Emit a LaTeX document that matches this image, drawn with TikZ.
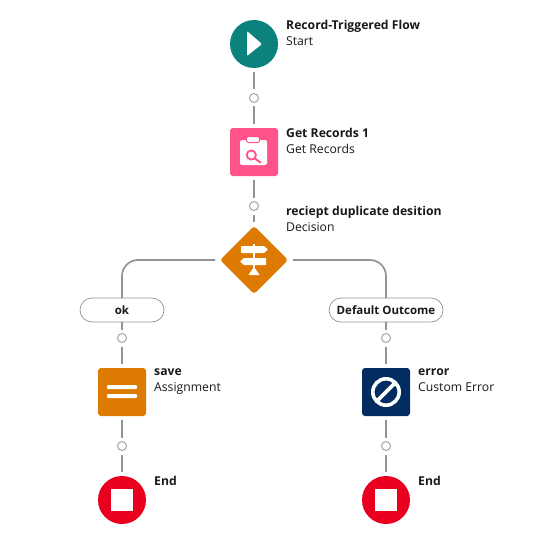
\documentclass[tikz,border=0pt]{standalone}
\usepackage{fontspec}
\setmainfont{Open Sans}
\usepackage{xcolor}
\usetikzlibrary{shapes.geometric}
\definecolor{startteal}{HTML}{0B827C}
\definecolor{recordpink}{HTML}{FF538A}
\definecolor{logicorange}{HTML}{DD7A01}
\definecolor{errornavy}{HTML}{032D60}
\definecolor{endred}{HTML}{EA001E}
\definecolor{flowgray}{HTML}{939393}
\definecolor{flowtext}{HTML}{181818}
\tikzset{
    round-icon/.style = {circle, minimum size=48pt, inner sep=0pt, outer sep=0pt},
    box-icon/.style = {rectangle, rounded corners=3pt, minimum size=48pt, inner sep=0pt, outer sep=0pt},
    decision-icon/.style = {diamond, aspect=1, rounded corners=3pt, minimum size=68pt, inner sep=0pt, outer sep=0pt, fill=logicorange},
    flow-dot/.style = {circle, draw=flowgray, fill=white, line width=0.8pt, minimum size=9pt, inner sep=0pt, outer sep=0pt},
    flow-line/.style = {draw=flowgray, line width=1.7pt, shorten <=4pt, shorten >=4pt},
    branch-line/.style = {draw=flowgray, line width=1.7pt, rounded corners=16pt, shorten <=5pt},
    outcome-pill/.style = {rectangle, rounded corners=12pt, draw=flowgray, fill=white, line width=0.7pt, minimum height=24pt, inner sep=0pt, outer sep=0pt, text=flowtext, font=\fontsize{11.5}{14}\selectfont\bfseries},
    flow-label/.style = {anchor=north west, align=left, inner sep=0pt, text=flowtext, font=\fontsize{12.2}{16}\selectfont},
    icon-mark/.style = {fill=white, draw=none},
}
\begin{document}
\begin{tikzpicture}[x=1pt, y=-1pt]
\useasboundingbox (0,0) rectangle (551,559);
% icons
\node [round-icon, fill=startteal] (start) at (254,44) {};
\node [box-icon, fill=recordpink] (records) at (254,152) {};
\node [decision-icon] (decision) at (254,260) {};
\node [box-icon, fill=logicorange] (save) at (122,392) {};
\node [box-icon, fill=errornavy] (error) at (386,392) {};
\node [round-icon, fill=endred] (end-ok) at (122,500) {};
\node [round-icon, fill=endred] (end-error) at (386,500) {};
% dots and outcomes
\node [flow-dot] (dot-start) at (254,98) {};
\node [flow-dot] (dot-records) at (254,206) {};
\node [outcome-pill, minimum width=84pt, text depth=0pt] (ok) at (122,310) {\raisebox{-1pt}{ok}};
\node [outcome-pill, minimum width=114pt] (default) at (386,310) {\raisebox{-1pt}{Default Outcome}};
\node [flow-dot] (dot-ok) at (122,338) {};
\node [flow-dot] (dot-default) at (386,338) {};
\node [flow-dot] (dot-save) at (122,446) {};
\node [flow-dot] (dot-error) at (386,446) {};
% connectors
\draw [flow-line] (start) -- (dot-start);
\draw [flow-line] (dot-start) -- (records);
\draw [flow-line] (records) -- (dot-records);
\draw [flow-line] (dot-records) -- (decision);
\draw [branch-line] (decision) -| (ok);
\draw [branch-line] (decision) -| (default);
\draw [flow-line, shorten <=0pt] (ok) -- (dot-ok);
\draw [flow-line, shorten <=0pt] (default) -- (dot-default);
\draw [flow-line] (dot-ok) -- (save);
\draw [flow-line] (dot-default) -- (error);
\draw [flow-line] (save) -- (dot-save);
\draw [flow-line] (error) -- (dot-error);
\draw [flow-line] (dot-save) -- (end-ok);
\draw [flow-line] (dot-error) -- (end-error);
% play mark
\begin{scope}[shift={(start.center)}]
\fill [icon-mark, rounded corners=1pt] (-7,-13) -- (8,0) -- (-7,12) -- cycle;
\end{scope}
% clipboard mark
\begin{scope}[shift={(records.center)}]
\fill [icon-mark, rounded corners=2pt] (-14,-12) rectangle (13,13);
\filldraw [draw=recordpink, fill=white, line width=1pt, rounded corners=1.5pt] (-7.5,-15.5) rectangle (5.5,-9.5);
\draw [draw=recordpink, line width=1.8pt] (-2.7,3) circle (4.6pt);
\draw [draw=recordpink, line width=2pt, line cap=round] (0.8,6.5) -- (6.5,10.5);
\end{scope}
% signpost mark
\begin{scope}[shift={(decision.center)}]
\fill [icon-mark] (-1,-16) rectangle (1,10);
\fill [icon-mark, rounded corners=0.5pt] (-13,-14) -- (10,-14) -- (14,-10.5) -- (10,-7) -- (-13,-7) -- cycle;
\fill [icon-mark, rounded corners=0.5pt] (-14,1.5) -- (-10,-2) -- (12,-2) -- (12,5) -- (-10,5) -- cycle;
\fill [icon-mark] (-5.5,15) -- (5.5,15) -- (1.5,9) -- (-1.5,9) -- cycle;
\end{scope}
% equals mark
\begin{scope}[shift={(save.center)}]
\fill [icon-mark, rounded corners=1pt] (-15,-7) rectangle (15,-3);
\fill [icon-mark, rounded corners=1pt] (-15,2) rectangle (15,6);
\end{scope}
% no-entry mark
\begin{scope}[shift={(error.center)}]
\draw [white, line width=3.6pt] (0,0) circle (13.2pt);
\draw [white, line width=3.6pt] (9.3,-9.3) -- (-9.3,9.3);
\end{scope}
% stop marks
\fill [icon-mark] ([shift={(-11,-11)}]end-ok.center) rectangle ([shift={(11,11)}]end-ok.center);
\fill [icon-mark] ([shift={(-11,-11)}]end-error.center) rectangle ([shift={(11,11)}]end-error.center);
% labels
\node [flow-label] (start-label) at (286,20.5) {\textbf{Record-Triggered Flow}\\Start};
\node [flow-label] (records-label) at (286,128.5) {\textbf{Get Records 1}\\Get Records};
\node [flow-label] (decision-label) at (286,206.5) {\textbf{reciept duplicate desition}\\Decision};
\node [flow-label] (save-label) at (154,368.5) {\textbf{save}\\Assignment};
\node [flow-label] (error-label) at (418,368.5) {\textbf{error}\\Custom Error};
\node [flow-label] (end-ok-label) at (154,476.5) {\textbf{End}};
\node [flow-label] (end-error-label) at (418,476.5) {\textbf{End}};
\end{tikzpicture}
\end{document}
